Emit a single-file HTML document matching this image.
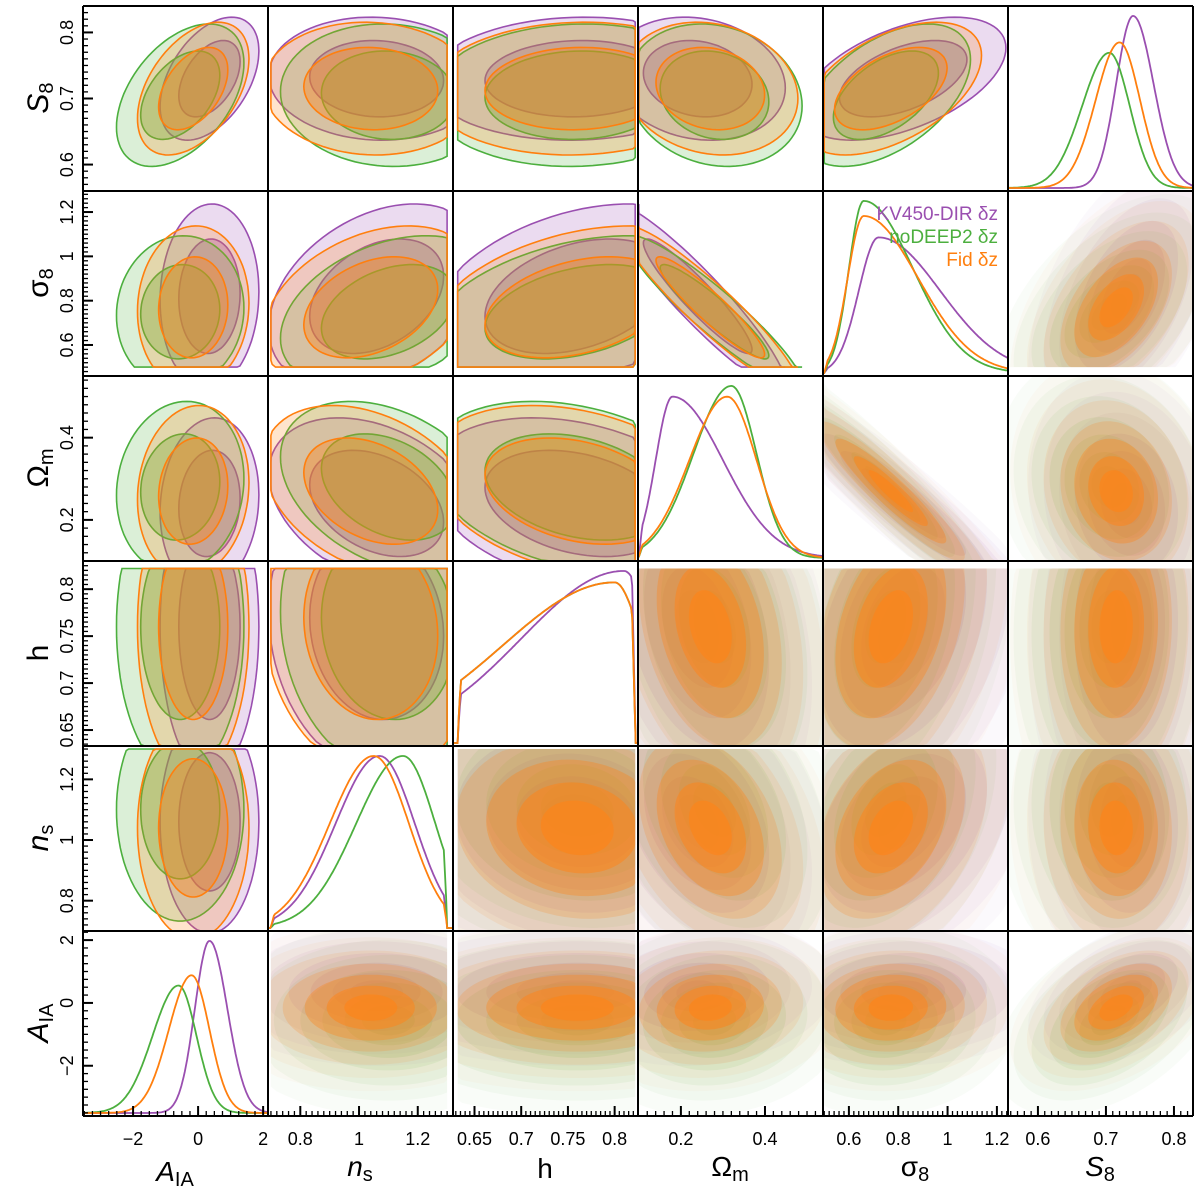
<!DOCTYPE html>
<html><head><meta charset="utf-8"><style>
html,body{margin:0;padding:0;background:#fff;}
svg{display:block;font-family:"Liberation Sans",sans-serif;}
</style></head><body>
<svg id="chart" width="1200" height="1192" viewBox="0 0 1200 1192" xmlns="http://www.w3.org/2000/svg"></svg>
<script>
// parameter order: A_IA, n_s, h, Omega_m, sigma_8, S_8
const paramNames = ['AIA','ns','h','Om','s8','S8'];
const seriesNames = ['KV450-DIR δz','noDEEP2 δz','Fid δz'];
const meanKV   = [0.35, 1.06, 0.76, 0.24, 0.82, 0.73];
const meanNoD  = [-0.55, 1.10, 0.76, 0.28, 0.75, 0.705];
const meanFid  = [-0.15, 1.04, 0.76, 0.27, 0.77, 0.715];
const sdKV     = [0.62, 0.15, 0.065, 0.085, 0.17, 0.038];
const sdNoD    = [0.8, 0.15, 0.065, 0.085, 0.14, 0.044];
const sdFid    = [0.7, 0.15, 0.065, 0.085, 0.15, 0.041];
// 1D marginals: split-normal peak, left width, right width
const margPeakKV  = [0.35, 1.07, 0.81, 0.18, 0.72, 0.74];
const margPeakNoD = [-0.6, 1.15, 0.80, 0.32, 0.66, 0.705];
const margPeakFid = [-0.2, 1.05, 0.80, 0.31, 0.66, 0.72];
const margSdLKV   = [0.45, 0.15, 0.11, 0.04, 0.08, 0.025];
const margSdLNoD  = [0.8, 0.16, 0.12, 0.09, 0.06, 0.04];
const margSdLFid  = [0.7, 0.15, 0.12, 0.09, 0.065, 0.035];
const margSdRKV   = [0.55, 0.12, 0.03, 0.12, 0.25, 0.03];
const margSdRNoD  = [0.55, 0.11, 0.03, 0.06, 0.2, 0.03];
const margSdRFid  = [0.55, 0.12, 0.03, 0.07, 0.22, 0.03];
const rhoMatrix = [
  [1, 0, 0, 0.1, 0.05, 0.45],
  [0, 1, -0.1, -0.35, 0.35, -0.05],
  [0, -0.1, 1, -0.3, 0.35, 0.05],
  [0.1, -0.35, -0.3, 1, -0.93, -0.15],
  [0.05, 0.35, 0.35, -0.93, 1, 0.5],
  [0.45, -0.05, 0.05, -0.15, 0.5, 1]
];
const priorLo = [-6, 0.7, 0.632, 0.1, 0.5, 0.3];
const priorHi = [6, 1.3, 0.822, 1.0, 2.0, 1.2];
const xTicks = [[-2,0,2],[0.8,1,1.2],[0.65,0.7,0.75,0.8],[0.2,0.4],[0.6,0.8,1,1.2],[0.6,0.7,0.8]];
const xTickLabels = [['−2','0','2'],['0.8','1','1.2'],['0.65','0.7','0.75','0.8'],['0.2','0.4'],['0.6','0.8','1','1.2'],['0.6','0.7','0.8']];
const yTicks = [[-2,0,2],[0.8,1,1.2],[0.65,0.7,0.75,0.8],[0.2,0.4],[0.6,0.8,1,1.2],[0.6,0.7,0.8]];
const yTickLabels = [['−2','0','2'],['0.8','1','1.2'],['0.65','0.7','0.75','0.8'],['0.2','0.4'],['0.6','0.8','1','1.2'],['0.6','0.7','0.8']];
const minorStep = [0.25, 0.02, 0.005, 0.02, 0.02, 0.01];

const xr = [[-3.54,2.15],[0.69,1.32],[0.627,0.825],[0.098,0.538],[0.495,1.245],[0.556,0.828]];
const yr = [[-3.6,2.29],[0.70,1.31],[0.633,0.83],[0.1,0.55],[0.46,1.295],[0.56,0.84]];
const X0=83, Y0=6, W=185;
const strokeC=['#9a4fb0','#4caf3e','#ff7f0e'];
const fillC=['#a35cbb','#5cb84a','#ff8418'];
const means=[meanKV,meanNoD,meanFid], sds=[sdKV,sdNoD,sdFid];
const mPeak=[margPeakKV,margPeakNoD,margPeakFid], mL=[margSdLKV,margSdLNoD,margSdLFid], mR=[margSdRKV,margSdRNoD,margSdRFid];
const NS='http://www.w3.org/2000/svg';
const svg=document.getElementById('chart');
function mk(tag,attrs,parent){const e=document.createElementNS(NS,tag);for(const k in attrs)e.setAttribute(k,attrs[k]);(parent||svg).appendChild(e);return e;}
function sx(p,v,col){return X0+col*W+(v-xr[p][0])/(xr[p][1]-xr[p][0])*W;}
function sy(p,v,row){return Y0+(row+1)*W-(v-yr[p][0])/(yr[p][1]-yr[p][0])*W;}
function clamp(v,a,b){return Math.max(a,Math.min(b,v));}
const defs=mk('defs',{});
for(let r=0;r<6;r++)for(let c=0;c<6;c++){
  const cp=mk('clipPath',{id:'cp'+r+'_'+c},defs);
  mk('rect',{x:X0+c*W,y:Y0+r*W,width:W,height:W},cp);
}
function ellPath(s,px,py,row,col,rad){
  const m=means[s],d=sds[s],rho=rhoMatrix[px][py];
  let dstr='';
  for(let k=0;k<=90;k++){
    const t=k/90*2*Math.PI;
    let vx=m[px]+rad*d[px]*Math.cos(t);
    let vy=m[py]+rad*d[py]*(rho*Math.cos(t)+Math.sqrt(1-rho*rho)*Math.sin(t));
    vx=clamp(vx,Math.max(priorLo[px],xr[px][0]),Math.min(priorHi[px],xr[px][1]));
    vy=clamp(vy,Math.max(priorLo[py],yr[py][0]),Math.min(priorHi[py],yr[py][1]));
    dstr+=(k?'L':'M')+sx(px,vx,col).toFixed(1)+','+sy(py,vy,row).toFixed(1);
  }
  return dstr+'Z';
}
for(let row=0;row<6;row++){
  const py=5-row;
  for(let col=0;col<6;col++){
    const px=col;
    const g=mk('g',{'clip-path':'url(#cp'+row+'_'+col+')'});
    if(px<py){
      
      
      for(let s=0;s<3;s++){
        const e1=mk('path',{d:ellPath(s,px,py,row,col,2.45),fill:fillC[s],'fill-opacity':0.22,stroke:strokeC[s],'stroke-width':1.6},g);
        
        
        const e2=mk('path',{d:ellPath(s,px,py,row,col,1.52),fill:fillC[s],'fill-opacity':0.38,stroke:strokeC[s],'stroke-width':1.6},g);
        
        
      }
    } else if(px>py){
      
      
      const radii=[3.8,3.2,2.6,2.0,1.5,1.0,0.6];
      const ops=[[0.04,0.05,0.07,0.1,0.12,0.14,0.15],[0.04,0.05,0.07,0.1,0.12,0.14,0.15],[0.03,0.05,0.1,0.2,0.35,0.5,0.6]];
      for(let s=0;s<3;s++){
        for(let k=0;k<radii.length;k++){
          const e=mk('path',{d:ellPath(s,px,py,row,col,radii[k]),fill:fillC[s],'fill-opacity':ops[s][k]},g);
          
          
        }
      }
    } else {
      
      
      const N=160, curves=[]; let gmax=0;
      for(let s=0;s<3;s++){
        const mu=mPeak[s][px], sl=mL[s][px], sr=mR[s][px];
        const pts=[];
        for(let k=0;k<=N;k++){
          const v=xr[px][0]+k/N*(xr[px][1]-xr[px][0]);
          const sd=v<mu?sl:sr;
          let dens=Math.exp(-0.5*((v-mu)/sd)**2)/(sl+sr);
          const lo=priorLo[px],hi=priorHi[px],w=(xr[px][1]-xr[px][0])*0.02;
          if(v<lo||v>hi)dens=0;else dens*=Math.min(1,(v-lo)/w+0.15,(hi-v)/w+0.15);
          pts.push([v,dens]);gmax=Math.max(gmax,dens);
        }
        curves.push(pts);
      }
      for(let s=0;s<3;s++){
        let d='';
        curves[s].forEach((q,k)=>{const X=sx(px,q[0],col),Y=Y0+(row+1)*W-3-q[1]/gmax*(W*0.93);d+=(k?'L':'M')+X.toFixed(1)+','+Y.toFixed(1);});
        const e=mk('path',{d:d,fill:'none',stroke:strokeC[s],'stroke-width':1.8},g);
        
        
      }
    }
  }
}
// grid frame
const frame=mk('g',{});


for(let k=0;k<=6;k++){
  mk('line',{x1:X0+k*W,y1:Y0,x2:X0+k*W,y2:Y0+6*W,stroke:'#000','stroke-width':2},frame);
  mk('line',{x1:X0,y1:Y0+k*W,x2:X0+6*W,y2:Y0+k*W,stroke:'#000','stroke-width':2},frame);
}
// ticks
const tg=mk('g',{stroke:'#000','stroke-width':1.3});


for(let col=0;col<6;col++){
  const p=col,st=minorStep[p],yb=Y0+6*W;
  for(let v=Math.ceil(xr[p][0]/st)*st;v<xr[p][1];v+=st) {const X=sx(p,v,col);if(X>X0+col*W+1&&X<X0+(col+1)*W-1)mk('line',{x1:X,y1:yb,x2:X,y2:yb-5},tg);}
  xTicks[p].forEach(v=>{const X=sx(p,v,col);mk('line',{x1:X,y1:yb,x2:X,y2:yb-10,'stroke-width':2},tg);});
}
for(let row=0;row<6;row++){
  const p=5-row,st=minorStep[p];
  for(let v=Math.ceil(yr[p][0]/st)*st;v<yr[p][1];v+=st){const Y=sy(p,v,row);if(Y>Y0+row*W+1&&Y<Y0+(row+1)*W-1)mk('line',{x1:X0,y1:Y,x2:X0+5,y2:Y},tg);}
  yTicks[p].forEach(v=>{const Y=sy(p,v,row);mk('line',{x1:X0,y1:Y,x2:X0+10,y2:Y,'stroke-width':2},tg);});
}
// tick labels
for(let col=0;col<6;col++){
  const p=col;
  xTicks[p].forEach((v,i)=>{const t=mk('text',{x:sx(p,v,col),y:1145,'font-size':18,'text-anchor':'middle',fill:'#000'});t.textContent=xTickLabels[p][i];
    });
}
for(let row=0;row<6;row++){
  const p=5-row;
  yTicks[p].forEach((v,i)=>{const Y=sy(p,v,row);const t=mk('text',{x:0,y:0,'font-size':18,'text-anchor':'middle',fill:'#000',transform:'translate(73,'+Y+') rotate(-90)'});t.textContent=yTickLabels[p][i];
    });
}
</script>
<!-- axis titles -->
<g font-size="28" fill="#000" text-anchor="middle" font-family="Liberation Sans, sans-serif">
<text x="175" y="1181"><tspan font-style="italic">A</tspan><tspan font-size="20" dy="5">IA</tspan></text>
<text x="360" y="1176"><tspan font-style="italic">n</tspan><tspan font-size="20" dy="5">s</tspan></text>
<text x="545" y="1178">h</text>
<text x="730" y="1176">Ω<tspan font-size="20" dy="5">m</tspan></text>
<text x="915" y="1176">σ<tspan font-size="20" dy="5">8</tspan></text>
<text x="1100" y="1176"><tspan font-style="italic">S</tspan><tspan font-size="20" dy="5">8</tspan></text>
</g>
<g font-size="30" fill="#000" text-anchor="middle" font-family="Liberation Sans, sans-serif">
<text transform="translate(48,98) rotate(-90)"><tspan font-style="italic">S</tspan><tspan font-size="20" dy="5">8</tspan></text>
<text transform="translate(48,283) rotate(-90)">σ<tspan font-size="20" dy="5">8</tspan></text>
<text transform="translate(48,468) rotate(-90)">Ω<tspan font-size="20" dy="5">m</tspan></text>
<text transform="translate(48,653) rotate(-90)">h</text>
<text transform="translate(48,838) rotate(-90)"><tspan font-style="italic">n</tspan><tspan font-size="20" dy="5">s</tspan></text>
<text transform="translate(48,1023) rotate(-90)"><tspan font-style="italic">A</tspan><tspan font-size="20" dy="5">IA</tspan></text>
</g>
<g font-size="19" text-anchor="end" font-family="Liberation Sans, sans-serif">
<text x="998" y="220" fill="#9a4fb0">KV450-DIR δz</text>
<text x="998" y="243" fill="#4caf3e">noDEEP2 δz</text>
<text x="998" y="266" fill="#ff7f0e">Fid δz</text>
</g>
<script>
const svgEl=document.getElementById('chart');
document.querySelectorAll('body > g').forEach(g=>{const ng=document.createElementNS('http://www.w3.org/2000/svg','g');
  for(const a of g.attributes)ng.setAttribute(a.name,a.value);ng.innerHTML=g.innerHTML;svgEl.appendChild(ng);g.remove();});
</script>
</body></html>
